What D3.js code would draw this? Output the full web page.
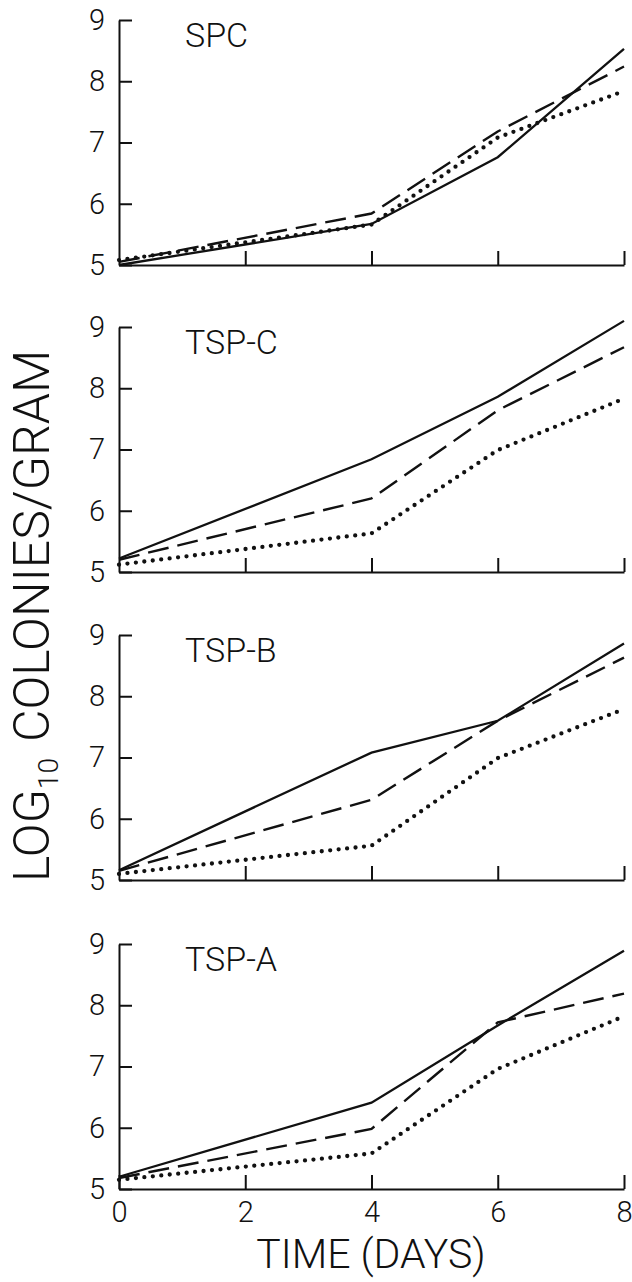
<!DOCTYPE html>
<html>
<head>
<meta charset="utf-8">
<script src="https://cdn.jsdelivr.net/npm/d3@7"></script>
<style>
  body { margin: 0; background: #fff; }
  svg text { font-family: "Roboto", "Liberation Sans", sans-serif; font-weight: 300; fill: #111; }
</style>
</head>
<body>
<svg id="chart" width="632" height="1282"></svg>
<script>
// values (log10 colonies/gram)
const days = [0, 4, 6, 8];
const panelNames = ["SPC", "TSP-C", "TSP-B", "TSP-A"];
const solidVals = [
  [5.0, 5.67, 6.76, 8.53],
  [5.22, 6.84, 7.86, 9.1],
  [5.16, 7.08, 7.6, 8.86],
  [5.2, 6.41, 7.67, 8.89],
];
const dashedVals = [
  [5.05, 5.84, 7.18, 8.24],
  [5.2, 6.2, 7.64, 8.67],
  [5.15, 6.31, 7.6, 8.63],
  [5.18, 5.98, 7.72, 8.19],
];
const dottedVals = [
  [5.08, 5.66, 7.08, 7.84],
  [5.12, 5.63, 6.99, 7.83],
  [5.1, 5.56, 6.99, 7.79],
  [5.15, 5.58, 6.96, 7.82],
];
const yTicks = [5, 6, 7, 8, 9];
const xTicks = [0, 2, 4, 6, 8];

let svg = d3.select("#chart");
let panelTops = [20, 327, 635, 944];
let panelH = 245;

let x = d3.scaleLinear().domain([0, 8]).range([119, 624]);

let styles = [
  { vals: solidVals, dash: null, width: 2.3, cap: "butt" },
  { vals: dashedVals, dash: "21 9", width: 2.4, cap: "butt" },
  { vals: dottedVals, dash: "0 8.5", width: 4.3, cap: "round" },
];

panelNames.forEach((name, i) => {
  let top = panelTops[i];
  let y = d3.scaleLinear().domain([5, 9]).range([top + panelH, top]);
  let last = i === panelNames.length - 1;

  // left axis, ticks inward
  let ya = svg.append("g")
    .attr("transform", "translate(" + x(0) + ",0)")
    .call(d3.axisLeft(y).tickValues(yTicks).tickSize(-13).tickSizeOuter(0)
      .tickPadding(14).tickFormat(d3.format("d")));
  ya.selectAll("text").style("font-size", "29px");

  // bottom axis, ticks up
  let xa = svg.append("g")
    .attr("transform", "translate(0," + y(5) + ")")
    .call(d3.axisBottom(x).tickValues(last ? xTicks : xTicks.slice(1))
      .tickSize(-14).tickSizeOuter(0).tickPadding(12)
      .tickFormat(last ? d3.format("d") : () => ""));
  xa.selectAll("text").style("font-size", "29px");

  svg.selectAll(".domain, .tick line")
    .attr("stroke", "#111")
    .attr("stroke-width", 2);

  svg.append("text")
    .attr("x", 185)
    .attr("y", top + 27)
    .style("font-size", "34px")
    .text(name);

  let line = d3.line().x((d, j) => x(days[j])).y((d) => y(d));

  styles.forEach((s) => {
    svg.append("path")
      .datum(s.vals[i])
      .attr("d", line)
      .attr("fill", "none")
      .attr("stroke", "#111")
      .attr("stroke-width", s.width)
      .attr("stroke-linecap", s.cap)
      .attr("stroke-dasharray", s.dash);
  });
});

// y title, starts at the bottom
let yt = svg.append("text")
  .attr("transform", "translate(49,882) rotate(-90)")
  .attr("text-anchor", "start")
  .style("font-size", "50px");
yt.append("tspan").text("LOG");
yt.append("tspan").text("10").attr("dy", 9).style("font-size", "28px");
yt.append("tspan").text("COLONIES/GRAM").attr("dy", -9).attr("dx", 16);

// x title
svg.append("text")
  .attr("x", 371)
  .attr("y", 1268)
  .attr("text-anchor", "middle")
  .style("font-size", "41px")
  .text("TIME (DAYS)");
</script>
</body>
</html>
